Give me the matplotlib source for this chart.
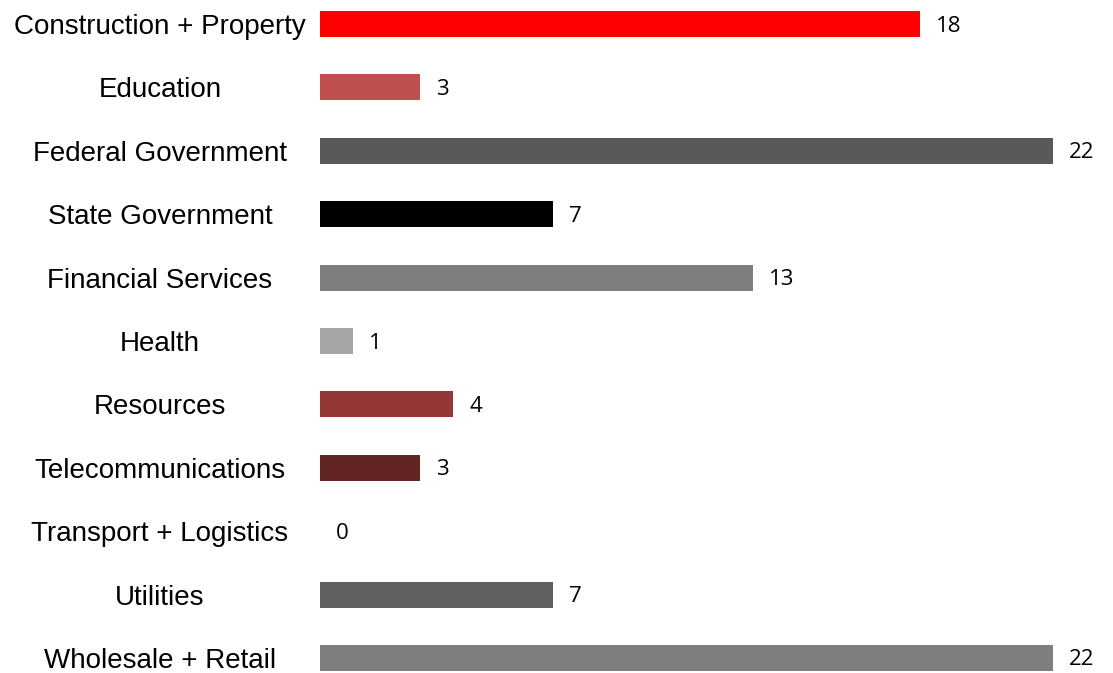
import numpy as np
import matplotlib.pyplot as plt
from matplotlib.transforms import blended_transform_factory, offset_copy

categories = ['Construction + Property', 'Education', 'Federal Government',
              'State Government', 'Financial Services', 'Health', 'Resources',
              'Telecommunications', 'Transport + Logistics', 'Utilities',
              'Wholesale + Retail']
values = [18, 3, 22, 7, 13, 1, 4, 3, 0, 7, 22]
colors = ['#FF0000', '#C0504D', '#595959', '#000000', '#7F7F7F', '#A6A6A6',
          '#953735', '#632523', '#7F7F7F', '#606060', '#7F7F7F']

fig = plt.figure(figsize=(11.13, 6.73), dpi=100)
ax = fig.add_axes([320 / 1113, 0, 793 / 1113, 1])

y = np.arange(len(categories))
ax.barh(y, values, height=0.41, color=colors)
ax.set_xlim(0, 793 / 33.32)
ax.set_ylim(10.237, -0.379)
ax.axis('off')

# category labels centred left of the bars
tr = offset_copy(blended_transform_factory(ax.transAxes, ax.transData),
                 fig=fig, x=0, y=-3, units='dots')
for i, name in enumerate(categories):
    ax.text(-160 / 793, i, name, transform=tr, ha='center', va='center',
            fontsize=20, family='Liberation Sans', color='black')

# value labels after bar end
vtr = offset_copy(ax.transData, fig=fig, x=16, y=-2, units='dots')
for i, v in enumerate(values):
    ax.text(v, i, str(v), transform=vtr, ha='left', va='center',
            fontsize=16, family='Open Sans', color='black')

fig.savefig('out.png', dpi=100)
